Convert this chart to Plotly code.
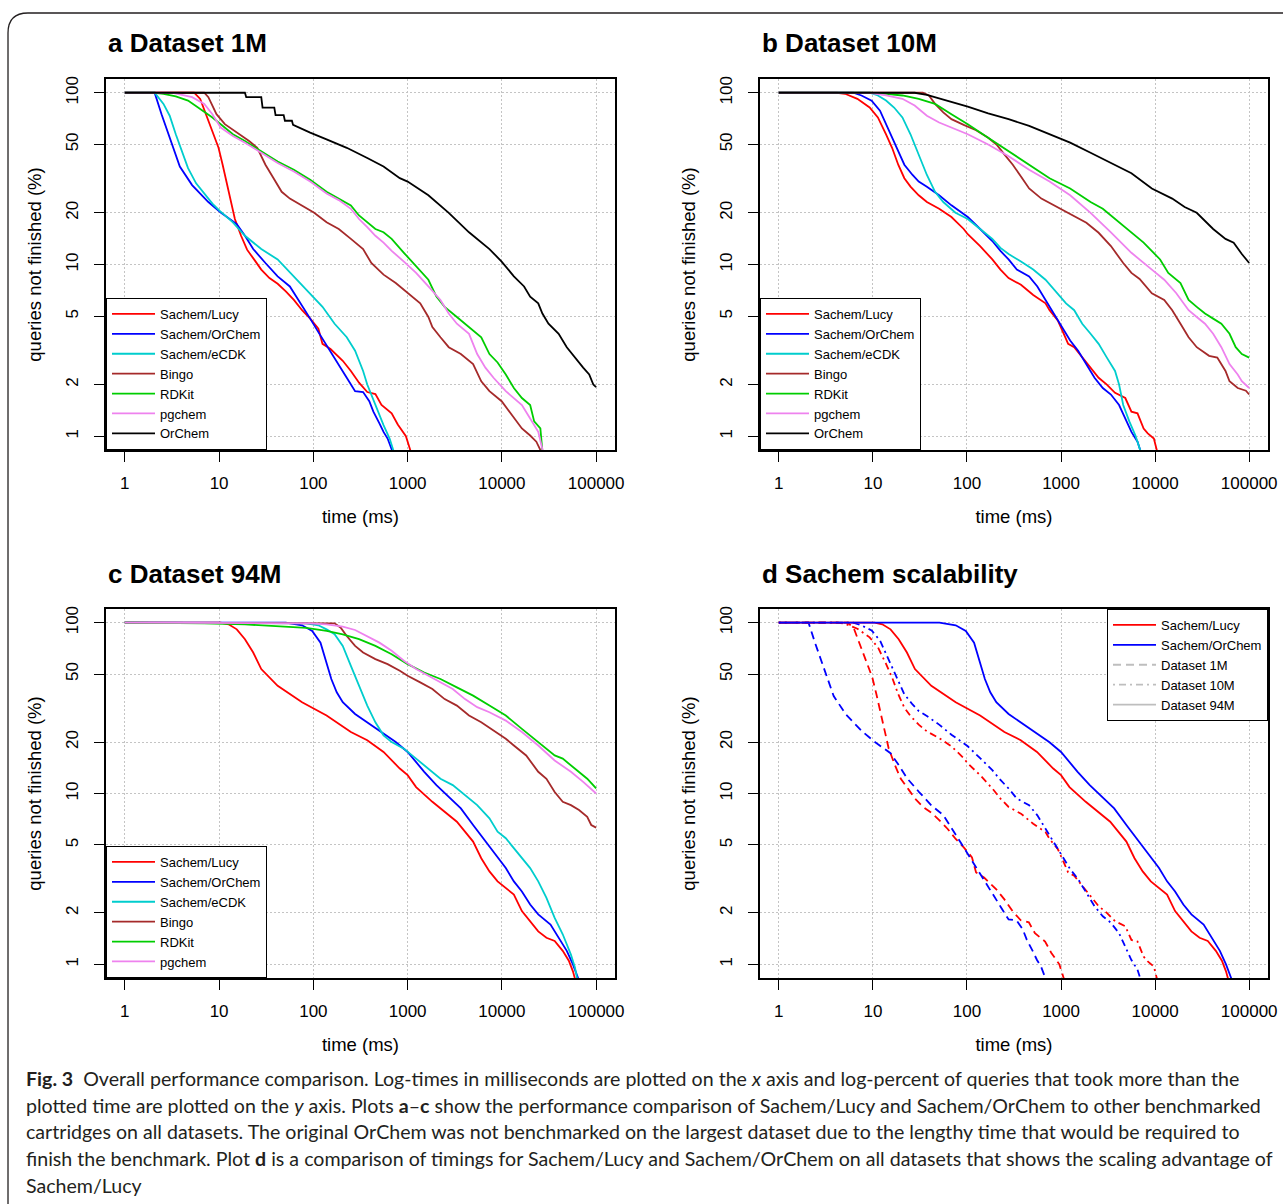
import plotly.graph_objects as go

# ---------------- data (time in ms, percent of queries not finished) ----------------
x_ticks = [1, 10, 100, 1000, 10000, 100000]
x_tick_labels = ["1", "10", "100", "1000", "10000", "100000"]
y_ticks = [1, 2, 5, 10, 20, 50, 100]
y_tick_labels = ["1", "2", "5", "10", "20", "50", "100"]

# Panel a: Dataset 1M
a_lucy_t = [1, 5.43, 6.3, 7.3, 8.5, 9.86, 10.9, 12.0, 13.3, 14.7, 17.1, 19.8, 24.1, 28, 34.2, 41.8, 51, 62.1, 75.9, 92.5,
            113, 125, 152, 205, 250, 305, 373, 455, 528, 677, 786, 959, 1090]
a_lucy_p = [100, 100, 92, 73.5, 58.6, 47.8, 38.1, 29.7, 23.1, 18.4, 14.7, 12.2, 10.5, 9.34, 8.34, 7.72, 6.97, 6.22, 5.42, 4.84,
            4.23, 3.45, 3.22, 2.75, 2.4, 2.05, 1.81, 1.76, 1.52, 1.36, 1.17, 1.0, 0.8]
a_orchem_t = [1, 2.07, 2.45, 2.84, 3.3, 3.83, 5.17, 7.69, 10.4, 15.4, 18.8, 23, 31, 41.8, 56.3, 68.7, 92.5, 113, 138, 168, 226,
              277, 337, 392, 433, 502, 555, 613, 700]
a_orchem_p = [100, 100, 75, 59.9, 47.8, 37.2, 29, 23.1, 20.1, 17.2, 14.7, 12.3, 10.2, 8.53, 7.45, 6.22, 4.84, 4.04, 3.37, 2.87, 2.19,
              1.83, 1.81, 1.6, 1.39, 1.19, 1.06, 0.97, 0.8]
a_ecdk_t = [1, 2.07, 2.57, 2.99, 3.47, 4.03, 4.68, 5.7, 6.96, 8.49, 10.1, 14, 18.8, 28, 41.8, 62.1, 92.5, 125, 168, 226,
            277, 337, 373, 455, 555, 644, 720]
a_ecdk_p = [100, 100, 86.1, 73.5, 57.3, 45.7, 36.4, 29.7, 25.9, 22.6, 20.6, 17.6, 14.7, 12.3, 10.7, 8.53, 6.8, 5.67, 4.52, 3.77,
            3.15, 2.4, 2.0, 1.52, 1.16, 0.97, 0.8]
a_bingo_t = [1, 6.96, 7.69, 9.38, 11.5, 15.4, 20.8, 25.4, 31, 37.8, 46.1, 56.3, 75.9, 102, 138, 186, 250, 337, 412, 555,
             748, 1000, 1360, 1660, 1830, 2230, 2730, 3670, 4950, 6040, 7380, 9940, 13400, 16300, 19950, 23200, 26500]
a_bingo_p = [100, 100, 94.2, 75, 65.6, 58.6, 52.3, 47.8, 38.1, 31.8, 26.5, 24.2, 22.1, 20, 17.6, 16.1, 14.1, 12.3, 10.2, 8.73,
             7.8, 6.8, 5.94, 4.95, 4.32, 3.77, 3.3, 3.01, 2.63, 2.09, 1.83, 1.6, 1.27, 1.11, 1.01, 0.93, 0.8]
a_rdkit_t = [1, 2.07, 2.57, 3.47, 4.68, 6.3, 8.49, 10.4, 14, 18.8, 28, 41.8, 62.1, 92.5, 138, 186, 250, 305, 373, 455,
             555, 677, 913, 1230, 1660, 2020, 2470, 3330, 4480, 6040, 7380, 9000, 11000, 13400, 16300, 19950, 22000, 25600, 27000]
a_rdkit_p = [100, 100, 98.6, 95.1, 90, 80.5, 71.8, 65.6, 57.3, 52.3, 45.7, 39.8, 35.6, 31.1, 26.5, 24.2, 22.1, 19.3, 17.6, 16.1,
             15.4, 14.1, 11.7, 9.78, 8.15, 6.5, 5.67, 4.95, 4.32, 3.77, 3.01, 2.69, 2.29, 1.91, 1.67, 1.52, 1.22, 1.11, 0.8]
a_pgchem_t = [1, 3.14, 5.17, 6.96, 8.49, 10.4, 14, 18.8, 28, 41.8, 62.1, 92.5, 138, 186, 250, 305, 373, 455, 555, 677,
              913, 1230, 1660, 2230, 2730, 3330, 4480, 5470, 6680, 8150, 11000, 13400, 16300, 19950, 24300, 27500]
a_pgchem_p = [100, 100, 94.2, 86.1, 75, 62.7, 56, 51.2, 44.7, 39, 34.8, 30.4, 25.9, 23.7, 21.1, 18.4, 16.5, 14.7, 13.4, 12,
              10.4, 8.93, 7.45, 6.22, 5.18, 4.52, 3.95, 3.01, 2.51, 2.19, 1.83, 1.67, 1.52, 1.27, 1.06, 0.8]
a_orchem_orig_t = [1, 18.8, 19.4, 28, 28.9, 38.5, 39.7, 48.4, 49.9, 59.2, 60.9, 75.9, 92.5, 138, 226, 373, 555, 826, 1000, 1660,
                   2730, 4480, 7380, 9940, 13400, 17200, 19950, 24300, 26900, 31200, 40000, 48800, 59600, 72800, 84400, 93300, 100000]
a_orchem_orig_p = [100, 100, 94.2, 94.2, 82, 82, 74.1, 74.1, 68.7, 68.7, 65, 61.3, 58.6, 53.5, 47.8, 41.7, 37.2, 31.8, 30.4, 25.3,
                   20, 15.4, 12.3, 10.4, 8.53, 7.45, 6.5, 5.94, 5.18, 4.52, 3.95, 3.3, 2.87, 2.51, 2.29, 2.0, 1.93]

# Panel b: Dataset 10M
b_lucy_t = [1, 4.14, 5.06, 6.84, 9.23, 11.3, 13.8, 16, 18.6, 21.6, 25.1, 30.7, 37.5, 50.6, 68.4, 92.3, 102, 138, 186, 227,
            277, 375, 506, 684, 755, 923, 1070, 1190, 1380, 1680, 2060, 2510, 3070, 3750, 4820, 5600, 6500, 7550, 8350, 9700, 10600]
b_lucy_p = [100, 100, 98.6, 92.2, 82, 71.8, 57.3, 47.8, 38.1, 31.8, 28.4, 25.3, 23.1, 21.1, 18.9, 16.1, 15, 12.8, 10.7, 9.34,
            8.34, 7.62, 6.65, 5.94, 5.42, 4.73, 3.95, 3.45, 3.3, 2.87, 2.51, 2.19, 2.0, 1.79, 1.67, 1.39, 1.36, 1.11, 1.04, 0.97, 0.8]
b_orchem_t = [1, 6.18, 7.56, 9.7, 11.9, 13.8, 16, 18.6, 21.6, 26.4, 30.7, 37.5, 50.6, 68.4, 102, 138, 186, 227, 277, 339,
              458, 560, 684, 835, 1020, 1250, 1520, 1860, 2270, 2780, 3390, 4140, 4820, 5600, 6500, 7100]
b_orchem_p = [100, 100, 96.4, 90, 78.6, 65.6, 54.7, 45.7, 38.1, 33.2, 30.4, 28.4, 25.3, 22.1, 18.9, 16.1, 13.7, 12, 10.7, 9.34,
              8.53, 7.45, 6.22, 5.18, 4.32, 3.61, 3.15, 2.63, 2.19, 1.91, 1.75, 1.52, 1.27, 1.06, 0.93, 0.8]
b_ecdk_t = [1, 9.23, 11.3, 13.8, 16.8, 20.6, 25.1, 30.7, 37.5, 45.8, 56, 75.5, 102, 138, 186, 227, 277, 375, 506, 684,
            923, 1130, 1380, 1680, 2060, 2510, 3070, 3750, 4140, 4580, 5320, 6180, 7100]
b_ecdk_p = [100, 100, 96.4, 90, 82, 71.8, 57.3, 43.6, 33.2, 26.5, 23.1, 20, 18.4, 16.1, 14.1, 12.5, 11.5, 10.4, 9.34, 8.15,
            6.8, 5.94, 5.42, 4.52, 3.95, 3.45, 2.87, 2.4, 2.0, 1.52, 1.22, 1.01, 0.8]
b_bingo_t = [1, 33.9, 39.4, 45.8, 56, 68.4, 92.3, 125, 168, 206, 251, 307, 375, 458, 618, 835, 1250, 1860, 2510, 3390,
             4580, 5600, 6840, 9230, 12500, 15200, 18600, 22700, 27700, 37500, 45800, 56000, 61800, 75500, 92300, 100000]
b_bingo_p = [100, 100, 96.4, 86.1, 76.9, 70.2, 65, 60.5, 54.7, 50, 43.6, 38.1, 32.5, 27.7, 24.2, 22.1, 19.7, 17.5, 15.3, 12.8,
             10.2, 8.93, 8.23, 6.8, 6.22, 5.42, 4.52, 3.77, 3.3, 2.94, 2.87, 2.4, 2.09, 1.91, 1.84, 1.75]
b_rdkit_t = [1, 9.23, 13.8, 20.6, 30.7, 45.8, 68.4, 102, 168, 277, 458, 755, 1250, 2060, 2780, 3750, 5600, 7550, 11300, 13800,
             18600, 22700, 27700, 33900, 41400, 50600, 61800, 71900, 83500, 100000]
b_rdkit_p = [100, 100, 98.6, 96.4, 92.2, 86.1, 75, 65.6, 54.7, 45.7, 38.1, 31.8, 27.7, 23.1, 21.1, 18.4, 15.4, 13.4, 10.7, 8.93,
             7.8, 6.22, 5.67, 5.18, 4.84, 4.52, 3.95, 3.3, 3.01, 2.87]
b_pgchem_t = [1, 9.23, 13.8, 20.6, 27.8, 37.5, 50.6, 68.4, 102, 168, 277, 458, 755, 1250, 2060, 3390, 5600, 9230, 12500, 16800,
              22700, 27700, 33900, 41400, 50600, 61800, 75500, 83500, 100000]
b_pgchem_p = [100, 100, 96.4, 92.2, 84.2, 73.5, 67.1, 62.7, 57.3, 50, 42.7, 35.6, 30.4, 25.3, 20, 15.4, 11.7, 9.34, 8.15, 6.8,
              5.42, 4.95, 4.52, 3.95, 3.3, 2.63, 2.29, 2.09, 1.91]
b_orchem_orig_t = [1, 27.8, 37.5, 45.8, 56, 68.4, 102, 168, 277, 458, 755, 1250, 2060, 3390, 5600, 9230, 15200, 20600, 27700, 41400,
                   56000, 68400, 83500, 100000]
b_orchem_orig_p = [100, 100, 97.1, 94.2, 90.9, 88.1, 83, 75.9, 70.2, 64.1, 57.3, 51.2, 44.7, 39, 34, 27.7, 24.2, 21.6, 20, 16.1,
                   14.1, 13.4, 11.5, 10.2]

# Panel c: Dataset 94M
c_lucy_t = [1, 10.4, 12.6, 15.4, 18.8, 23, 28, 41.8, 75.9, 138, 250, 373, 555, 826, 1000, 1230, 1830, 2470, 3330, 4060,
            4950, 6040, 7380, 9000, 11000, 13400, 16300, 19950, 24300, 29700, 36300, 44200, 51300, 56700, 60500]
c_lucy_p = [100, 100, 97.8, 91.4, 80, 66.9, 53.5, 42.7, 34.2, 28.6, 22.9, 20.5, 17.5, 14, 12.8, 10.9, 8.94, 7.82, 6.84, 5.98,
            5.23, 4.18, 3.5, 3.06, 2.8, 2.56, 2.05, 1.79, 1.56, 1.43, 1.37, 1.2, 1.05, 0.91, 0.8]
c_orchem_t = [1, 51, 75.9, 97.2, 119, 138, 155, 177, 205, 277, 373, 555, 748, 1000, 1500, 2020, 2730, 3670, 4950, 6680,
              9000, 11000, 13400, 16300, 19950, 24300, 32800, 40000, 48800, 56700, 66000]
c_orchem_p = [100, 100, 96.5, 89.4, 76.4, 58.5, 46.8, 39.1, 34.2, 29.2, 26.1, 22.4, 20, 17.5, 13.4, 11.2, 9.57, 8.18, 6.54, 5.23,
              4.18, 3.66, 3.06, 2.67, 2.24, 1.96, 1.71, 1.43, 1.2, 1, 0.8]
c_ecdk_t = [1, 51, 83.8, 113, 138, 168, 205, 250, 305, 373, 455, 555, 677, 913, 1230, 1660, 2230, 3010, 4060, 5470,
            7380, 9000, 11000, 13400, 16300, 19950, 24300, 29700, 36300, 44200, 54000, 59600, 63500]
c_ecdk_p = [100, 100, 99.1, 96.5, 91.4, 85.5, 73.1, 55.9, 42.7, 32.7, 26.1, 21.9, 20, 18.3, 16, 14, 12.2, 11.2, 9.78, 8.55,
            7.15, 5.98, 5.47, 4.78, 4.18, 3.66, 3.06, 2.45, 1.87, 1.5, 1.14, 0.96, 0.8]
c_bingo_t = [1, 138, 168, 195, 226, 277, 337, 455, 613, 826, 1000, 1360, 1830, 2470, 3330, 4480, 6040, 8150, 11000, 13400,
             18100, 24300, 29700, 36300, 44200, 54000, 65800, 80400, 88700, 100000]
c_bingo_p = [100, 100, 99.1, 93.5, 83.6, 73.1, 66.9, 61.2, 57.2, 52.3, 48.9, 44.7, 40.9, 35.7, 32.7, 28.6, 26.1, 23.4, 20.9, 19.1,
             16.7, 13.4, 12.2, 10.2, 8.94, 8.55, 8.0, 7.31, 6.54, 6.31]
c_rdkit_t = [1, 2.57, 6.96, 18.8, 51, 83.8, 138, 205, 305, 455, 677, 1000, 1500, 2230, 3330, 4950, 7380, 11000, 16300, 24300,
             36300, 44200, 65800, 80400, 100000]
c_rdkit_p = [100, 100, 99.1, 97.8, 94.8, 93.1, 89.4, 85.5, 80, 73.1, 65.4, 57.2, 51.1, 46.8, 41.8, 37.4, 32.7, 28.6, 23.9, 20,
             16.7, 16, 13.4, 12.2, 10.7]
c_pgchem_t = [1, 51, 92.5, 138, 205, 277, 373, 502, 677, 913, 1230, 1660, 2230, 3010, 4060, 5470, 7380, 11000, 16300, 24300,
              36300, 54000, 72800, 100000]
c_pgchem_p = [100, 100, 99.1, 97.8, 94.8, 90.6, 83.6, 76.4, 68.4, 59.8, 53.5, 48.9, 44.7, 40.9, 35.7, 32, 29.9, 26.7, 22.9, 19.1,
              15.6, 13.4, 11.7, 10]

# ---------------- styling ----------------
COL = {"Sachem/Lucy": "#FF0000", "Sachem/OrChem": "#0000FF", "Sachem/eCDK": "#00CDCD",
       "Bingo": "#A52A2A", "RDKit": "#00CD00", "pgchem": "#EE82EE", "OrChem": "#000000"}
GRAY = "#BEBEBE"
FONT = "Liberation Sans, Arial, Helvetica, sans-serif"
CAPFONT = "Lato, Open Sans, sans-serif"
W, H = 1283, 1204
LW = 1.8
DASH = "8px,5px"
DOTDASH = "2px,4px,7px,4px"

def px(xp):
    return xp / W

def py(yp):
    return 1 - yp / H

# plot boxes in pixels (left, right, top, bottom)
boxes = {
    1: (106, 615, 79, 450),
    2: (760, 1268, 79, 450),
    3: (106, 615, 609, 978),
    4: (760, 1268, 609, 978),
}

fig = go.Figure()

panels = {
    1: [("Sachem/Lucy", a_lucy_t, a_lucy_p), ("Sachem/OrChem", a_orchem_t, a_orchem_p),
        ("Sachem/eCDK", a_ecdk_t, a_ecdk_p), ("Bingo", a_bingo_t, a_bingo_p),
        ("RDKit", a_rdkit_t, a_rdkit_p), ("pgchem", a_pgchem_t, a_pgchem_p),
        ("OrChem", a_orchem_orig_t, a_orchem_orig_p)],
    2: [("Sachem/Lucy", b_lucy_t, b_lucy_p), ("Sachem/OrChem", b_orchem_t, b_orchem_p),
        ("Sachem/eCDK", b_ecdk_t, b_ecdk_p), ("Bingo", b_bingo_t, b_bingo_p),
        ("RDKit", b_rdkit_t, b_rdkit_p), ("pgchem", b_pgchem_t, b_pgchem_p),
        ("OrChem", b_orchem_orig_t, b_orchem_orig_p)],
    3: [("Sachem/Lucy", c_lucy_t, c_lucy_p), ("Sachem/OrChem", c_orchem_t, c_orchem_p),
        ("Sachem/eCDK", c_ecdk_t, c_ecdk_p), ("Bingo", c_bingo_t, c_bingo_p),
        ("RDKit", c_rdkit_t, c_rdkit_p), ("pgchem", c_pgchem_t, c_pgchem_p)],
}

for k in (1, 2, 3):
    sfx = "" if k == 1 else str(k)
    for rank, (name, t, p) in enumerate(panels[k]):
        fig.add_trace(go.Scatter(x=t, y=p, mode="lines", name=name,
                                 line=dict(color=COL[name], width=LW),
                                 xaxis="x" + sfx, yaxis="y" + sfx,
                                 legend="legend" + sfx, legendrank=rank + 1,
                                 hoverinfo="skip"))

# Panel d: Sachem scalability (same measurements, grouped by dataset)
d_series = [
    ("Sachem/Lucy", a_lucy_t, a_lucy_p, DASH, False),
    ("Sachem/OrChem", a_orchem_t, a_orchem_p, DASH, False),
    ("Sachem/Lucy", b_lucy_t, b_lucy_p, DOTDASH, False),
    ("Sachem/OrChem", b_orchem_t, b_orchem_p, DOTDASH, False),
    ("Sachem/Lucy", c_lucy_t, c_lucy_p, "solid", True),
    ("Sachem/OrChem", c_orchem_t, c_orchem_p, "solid", True),
]
for name, t, p, dash, show in d_series:
    fig.add_trace(go.Scatter(x=t, y=p, mode="lines", name=name,
                             line=dict(color=COL[name], width=LW, dash=dash),
                             xaxis="x4", yaxis="y4", legend="legend4", showlegend=show,
                             legendrank=1 if name == "Sachem/Lucy" else 2, hoverinfo="skip"))
for rank, (name, dash) in enumerate([("Dataset 1M", DASH), ("Dataset 10M", DOTDASH),
                                     ("Dataset 94M", "solid")]):
    fig.add_trace(go.Scatter(x=[None], y=[None], mode="lines", name=name,
                             line=dict(color=GRAY, width=LW, dash=dash),
                             xaxis="x4", yaxis="y4", legend="legend4", legendrank=3 + rank,
                             hoverinfo="skip"))

layout = dict(
    autosize=True, height=H, margin=dict(l=0, r=0, t=0, b=0, autoexpand=False),
    paper_bgcolor="white", plot_bgcolor="white",
    font=dict(family=FONT, color="black"),
    showlegend=True,
)

tickfont = dict(family=FONT, size=17, color="black")
titlefont = dict(family=FONT, size=18.5, color="black")
GRIDCOL = "#C4C4C4"
GRIDDASH = "1.5px,2.5px"

for k, (l, r, t, b) in boxes.items():
    sfx = "" if k == 1 else str(k)
    layout["xaxis" + sfx] = dict(
        domain=[px(l), px(r)], anchor="y" + sfx, type="log", range=[-0.2, 5.2],
        tickmode="array", tickvals=x_ticks, ticktext=x_tick_labels,
        ticks="outside", ticklen=10, tickwidth=1, tickcolor="black",
        showline=True, linecolor="black", linewidth=2, mirror=True,
        showgrid=True, gridcolor=GRIDCOL, griddash=GRIDDASH, gridwidth=1,
        zeroline=False, tickfont=tickfont, ticklabelstandoff=7,
        title=dict(text="time (ms)", font=titlefont, standoff=18),
        fixedrange=True,
    )
    layout["yaxis" + sfx] = dict(
        domain=[py(b), py(t)], anchor="x" + sfx, type="log", range=[-0.08, 2.08],
        tickmode="array", tickvals=y_ticks, ticktext=y_tick_labels, tickangle=-90,
        ticks="outside", ticklen=10, tickwidth=1, tickcolor="black",
        showline=True, linecolor="black", linewidth=2, mirror=True,
        showgrid=True, gridcolor=GRIDCOL, griddash=GRIDDASH, gridwidth=1,
        zeroline=False, tickfont=tickfont, ticklabelstandoff=9,
        title=dict(text="queries not finished (%)", font=titlefont, standoff=17),
        fixedrange=True,
    )

leg_common = dict(bgcolor="white", bordercolor="black", borderwidth=1,
                  font=dict(family=FONT, size=13, color="black"),
                  itemwidth=43, tracegroupgap=0, traceorder="normal")
layout["legend"] = dict(x=px(106), y=py(450), xanchor="left", yanchor="bottom", **leg_common)
layout["legend2"] = dict(x=px(760), y=py(450), xanchor="left", yanchor="bottom", **leg_common)
layout["legend3"] = dict(x=px(106), y=py(978), xanchor="left", yanchor="bottom", **leg_common)
layout["legend4"] = dict(x=px(1268), y=py(609), xanchor="right", yanchor="top", **leg_common)

titles = [("a Dataset 1M", 106, 43), ("b Dataset 10M", 760, 43),
          ("c Dataset 94M", 106, 574), ("d Sachem scalability", 760, 574)]
annotations = []
for text, xl, yc in titles:
    annotations.append(dict(text="<b>" + text + "</b>", x=px(xl), y=py(yc), xref="paper", yref="paper",
                            xanchor="left", yanchor="middle", showarrow=False,
                            font=dict(family=FONT, size=26, color="black")))

caption_lines = [
    "<b>Fig. 3</b>\u00a0\u00a0Overall performance comparison. Log-times in milliseconds are plotted on the <i>x</i> axis and log-percent of queries that took more than the",
    "plotted time are plotted on the <i>y</i> axis. Plots <b>a</b>\u2013<b>c</b> show the performance comparison of Sachem/Lucy and Sachem/OrChem to other benchmarked",
    "cartridges on all datasets. The original OrChem was not benchmarked on the largest dataset due to the lengthy time that would be required to",
    "finish the benchmark. Plot <b>d</b> is a comparison of timings for Sachem/Lucy and Sachem/OrChem on all datasets that shows the scaling advantage of",
    "Sachem/Lucy",
]
caption_y = [1078, 1105, 1131, 1158, 1185]
for text, yc in zip(caption_lines, caption_y):
    annotations.append(dict(text=text, x=px(24), y=py(yc), xref="paper", yref="paper",
                            xanchor="left", yanchor="middle", showarrow=False,
                            font=dict(family=CAPFONT, size=19.6, color="#231F20")))
layout["annotations"] = annotations

# open frame with a rounded top-left corner
frame_path = "M {:.5f},{:.5f} L {:.5f},{:.5f} Q {:.5f},{:.5f} {:.5f},{:.5f} L {:.5f},{:.5f}".format(
    px(8), 0.0, px(8), py(33), px(8), py(13), px(28), py(13), 1.0, py(13))
layout["shapes"] = [dict(type="path", path=frame_path, xref="paper", yref="paper",
                         line=dict(color="#231F20", width=1.3), fillcolor="rgba(0,0,0,0)")]

fig.update_layout(**layout)

# make the page edge-to-edge and let the figure fill the window width exactly
post = ("document.documentElement.style.margin='0px';document.body.style.margin='0px';"
        "document.body.style.overflow='hidden';document.documentElement.style.overflow='hidden';"
        "var gd=document.getElementById('{plot_id}');"
        "Plotly.relayout(gd,{width:document.documentElement.clientWidth||window.innerWidth});")
fig.write_html("out.html", config={"displayModeBar": False, "responsive": True},
               default_width="100%", default_height="%dpx" % H, post_script=post)
